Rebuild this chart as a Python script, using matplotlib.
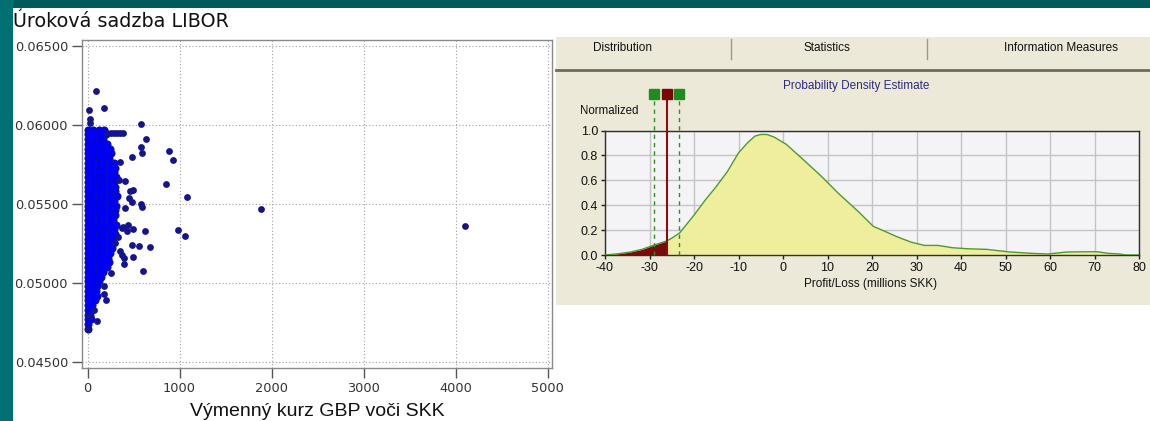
import numpy as np
import matplotlib
matplotlib.use("Agg")
import matplotlib.pyplot as plt
from matplotlib.patches import Rectangle
from matplotlib.lines import Line2D
from matplotlib.transforms import blended_transform_factory

plt.rcParams["axes.unicode_minus"] = False

# ---------------- data: scatter (left panel) ----------------
# dense cluster near x = 0
cluster_x = [0, 60, 120, 180,
             0, 50, 110, 160, 200,
             0, 60, 120, 170,
             0, 50, 100, 150, 210,
             0, 60, 120, 180, 240,
             0, 50, 100, 160, 220, 260,
             0, 60, 120, 180, 230,
             0, 50, 110, 170, 230, 290,
             0, 60, 120, 180, 240, 300,
             0, 50, 110, 170, 230, 290,
             0, 60, 120, 180, 240, 310,
             0, 50, 110, 170, 230, 290,
             0, 60, 120, 180, 240, 300,
             0, 50, 110, 170, 230, 300,
             0, 60, 120, 180, 240, 320,
             0, 50, 110, 170, 230, 290,
             0, 60, 120, 180, 240, 310,
             0, 50, 110, 170, 230, 300,
             0, 60, 120, 180, 240, 300,
             0, 50, 110, 170, 230, 280,
             0, 60, 120, 180, 240, 310,
             0, 50, 110, 170, 230, 290,
             0, 60, 120, 180, 240, 300,
             0, 50, 110, 170, 230, 280,
             0, 60, 120, 180, 240,
             0, 50, 110, 170, 230, 270,
             0, 60, 120, 180, 240,
             0, 50, 110, 170, 220,
             0, 60, 120, 180, 230,
             0, 50, 110, 160, 210,
             0, 60, 120, 170,
             0, 50, 100, 150,
             0, 60, 120,
             0, 50, 100,
             0, 40, 90,
             0, 50, 100,
             0, 40, 80,
             0, 50,
             0, 40,
             0, 30,
             0, 40,
             10,
             8]
cluster_y = [0.0597] * 4 + [0.0594] * 5 + [0.0591] * 4 + [0.0588] * 5 + [0.0585] * 5 + \
            [0.0582] * 6 + [0.0579] * 5 + [0.0576] * 6 + [0.0573] * 6 + [0.0570] * 6 + \
            [0.0567] * 6 + [0.0564] * 6 + [0.0561] * 6 + [0.0558] * 6 + [0.0555] * 6 + \
            [0.0552] * 6 + [0.0549] * 6 + [0.0546] * 6 + [0.0543] * 6 + [0.0540] * 6 + \
            [0.0537] * 6 + [0.0534] * 6 + [0.0531] * 6 + [0.0528] * 6 + [0.0525] * 5 + \
            [0.0522] * 6 + [0.0519] * 5 + [0.0516] * 5 + [0.0513] * 5 + [0.0510] * 5 + \
            [0.0507] * 4 + [0.0504] * 4 + [0.0501] * 3 + [0.0498] * 3 + [0.0495] * 3 + \
            [0.0492] * 3 + [0.0489] * 3 + [0.0486] * 2 + [0.0483] * 2 + [0.0480] * 2 + \
            [0.0477] * 2 + [0.0474] + [0.0471]

# scattered points away from the cluster
outlier_x = [90, 175, 20, 25, 30, 584,
             215, 250, 285, 320, 355, 390,
             634, 576, 595, 887, 926, 486, 354, 409, 848, 1078, 1887, 4105,
             981, 1054, 681, 564, 603, 623, 494, 584, 590, 467, 455, 494,
             400, 400, 409, 389, 432, 330, 300, 253, 183, 183, 202, 105,
             8, 12, 66, 345, 484, 495, 480, 380, 440, 350, 380]
outlier_y = [0.06213, 0.06108, 0.06092, 0.06035, 0.06015, 0.06006,
             0.05952, 0.05952, 0.05952, 0.05952, 0.05952, 0.05952,
             0.05913, 0.05860, 0.05823, 0.05835, 0.05779, 0.05800, 0.05763, 0.05644,
             0.05629, 0.05542, 0.05469, 0.05363,
             0.05337, 0.05298, 0.05229, 0.05235, 0.05073, 0.05330, 0.05344, 0.05500,
             0.05483, 0.05583, 0.05540, 0.05167,
             0.05160, 0.05120, 0.05475, 0.05354, 0.05330, 0.05290, 0.05250, 0.05063,
             0.04980, 0.04930, 0.04890, 0.04760,
             0.04708, 0.04790, 0.04830, 0.05650, 0.05510, 0.05590, 0.05240, 0.05350,
             0.05370, 0.05200, 0.05180]

scatter_xticks = [0, 1000, 2000, 3000, 4000, 5000]
scatter_yticks = [0.045, 0.050, 0.055, 0.060, 0.065]

# ---------------- data: density estimate (right panel) ----------------
pl_x = [-40, -37, -34.3, -31.7, -29.2, -26.2, -24.9, -23.2, -20, -17.5, -15, -12.5,
        -10, -8, -6.3, -5, -3.6, -2, 0.7, 4, 8.4, 12.6, 16.9, 20.3, 22.9, 25.4,
        28.8, 31.8, 34.8, 38.2, 41.6, 45.9, 51, 56.1, 59.5, 63.8, 68, 70.6, 73.2,
        75.7, 77, 80]
pdf_y = [0.0, 0.010, 0.024, 0.045, 0.077, 0.112, 0.137, 0.178, 0.32, 0.44, 0.55, 0.67,
         0.82, 0.90, 0.955, 0.968, 0.968, 0.947, 0.89, 0.784, 0.64, 0.49, 0.35, 0.23,
         0.19, 0.15, 0.103, 0.077, 0.077, 0.058, 0.050, 0.045, 0.024, 0.013, 0.008,
         0.024, 0.026, 0.026, 0.013, 0.008, 0.0, 0.0]
var_x = -26.0
ci_low = -28.9
ci_high = -23.4
pdf_xticks = [-40, -30, -20, -10, 0, 10, 20, 30, 40, 50, 60, 70, 80]
pdf_yticks = [0.0, 0.2, 0.4, 0.6, 0.8, 1.0]
tab_labels = ["Distribution", "Statistics", "Information Measures"]

# ---------------- figure ----------------
W, H = 1150, 421
fig = plt.figure(figsize=(W / 100, H / 100), dpi=100)
fig.patch.set_facecolor("white")


def rect(x, y, w, h):
    return [x / W, 1 - (y + h) / H, w / W, h / H]


def fx(x):
    return x / W


def fy(y):
    return 1 - y / H


def add_box(x, y, w, h, color, z=0):
    fig.add_artist(Rectangle((fx(x), fy(y + h)), w / W, h / H, transform=fig.transFigure,
                             facecolor=color, edgecolor="none", zorder=z))


def add_line(x0, y0, x1, y1, color, lw):
    fig.add_artist(Line2D([fx(x0), fx(x1)], [fy(y0), fy(y1)], transform=fig.transFigure,
                          color=color, linewidth=lw, zorder=1))


# slide background strips
add_box(0, 0, 1150, 8, "#005a5c")
add_box(0, 0, 12.5, 421, "#007073")
# right beige panel
add_box(556, 37, 594, 268, "#ECE9D8")
add_line(556, 70, 1150, 70, "#6E6C62", 2)
add_line(731, 39, 731, 59, "#9a9890", 1)
add_line(927, 39, 927, 59, "#9a9890", 1)
for lab, cx in zip(tab_labels, [623, 827, 1061]):
    fig.text(fx(cx), fy(48), lab, ha="center", va="center", fontsize=8.5,
             family="Liberation Sans", color="#111111")

# ---------------- left scatter ----------------
ax1 = fig.add_axes(rect(82, 40, 470, 328))
ax1.set_xlim(-60, 5048)
ax1.set_ylim(0.04462, 0.06538)
ax1.set_xticks(scatter_xticks)
ax1.set_yticks(scatter_yticks)
ax1.set_yticklabels([f"{v:.5f}" for v in scatter_yticks])
ax1.set_xticklabels([str(v) for v in scatter_xticks])
ax1.grid(True, linestyle=(0, (1, 2)), color="#a0a0a0", linewidth=0.8)
ax1.set_axisbelow(True)
for sp in ax1.spines.values():
    sp.set_color("#8a8a8a")
    sp.set_linewidth(1)
ax1.tick_params(direction="out", length=7, width=1, color="#555555",
                labelsize=9.3, labelcolor="#333333", pad=3)
for t in ax1.get_xticklabels() + ax1.get_yticklabels():
    t.set_family("DejaVu Sans")

ax1.scatter(cluster_x, cluster_y, s=34, color="#14148c", linewidths=0, zorder=2)
ax1.scatter(cluster_x, cluster_y, s=18, color="#0000f5", linewidths=0, zorder=3)
ax1.scatter(outlier_x, outlier_y, s=24, color="#14148c", linewidths=0, zorder=4)

fig.text(fx(13), fy(27), "Úroková sadzba LIBOR", ha="left", va="baseline",
         fontsize=13.8, family="DejaVu Sans", color="#111111")
fig.text(fx(317), fy(416), "Výmenný kurz GBP voči SKK", ha="center", va="baseline",
         fontsize=14, family="Liberation Sans", color="#111111")

# ---------------- right density plot ----------------
ax2 = fig.add_axes(rect(605, 130.5, 534, 124.5))
ax2.set_facecolor("#F4F4F6")
ax2.set_xlim(-40, 80)
ax2.set_ylim(0, 1.0)
ax2.set_xticks(pdf_xticks)
ax2.set_yticks(pdf_yticks)
ax2.set_yticklabels([f"{v:.1f}" for v in pdf_yticks])
ax2.set_xticklabels([str(v) for v in pdf_xticks])
ax2.grid(True, color="#c4c4c4", linewidth=1)
ax2.set_axisbelow(True)
for sp in ax2.spines.values():
    sp.set_color("#303030")
    sp.set_linewidth(1)
ax2.tick_params(direction="out", length=3, width=1, color="#202020",
                labelsize=9, labelcolor="#111111", pad=2)
for t in ax2.get_xticklabels() + ax2.get_yticklabels():
    t.set_family("Liberation Sans")

px = np.array(pl_x, dtype=float)
py = np.array(pdf_y, dtype=float)
ax2.fill_between(px, py, 0, color="#EEEE9C", linewidth=0, zorder=2)
var_y = np.interp(var_x, px, py)
mask = px < var_x
tail_x = np.append(px[mask], var_x)
tail_y = np.append(py[mask], var_y)
ax2.fill_between(tail_x, tail_y, 0, color="#780C0C", linewidth=0, zorder=3)
ax2.plot(px, py, color="#4E9A2C", linewidth=1, zorder=4)

trans = blended_transform_factory(ax2.transData, ax2.transAxes)
top_line = (255 - 97) / 124.5
sq_y = (255 - 93.5) / 124.5
ax2.plot([var_x, var_x], [0, top_line], color="#8B0E0E", linewidth=1.5,
         transform=trans, clip_on=False, zorder=5)
for cx in (ci_low, ci_high):
    ax2.plot([cx, cx], [0, top_line], color="#2E8B2E", linewidth=1,
             linestyle=(0, (3, 3)), transform=trans, clip_on=False, zorder=5)
    ax2.plot([cx], [sq_y], marker="s", markersize=6.5, color="#1E8C1E",
             transform=trans, clip_on=False, zorder=6)
ax2.plot([var_x], [sq_y], marker="s", markersize=6.5, color="#7A0606",
         transform=trans, clip_on=False, zorder=6)

fig.text(fx(580), fy(111), "Normalized", ha="left", va="center", fontsize=8.3,
         family="Liberation Sans", color="#111111")
fig.text(fx(856), fy(85.5), "Probability Density Estimate", ha="center", va="center",
         fontsize=8.5, family="Liberation Sans", color="#2B2B80")
fig.text(fx(871), fy(284), "Profit/Loss (millions SKK)", ha="center", va="center",
         fontsize=8.5, family="Liberation Sans", color="#111111")

fig.savefig("out.png", dpi=100, facecolor=fig.get_facecolor())
